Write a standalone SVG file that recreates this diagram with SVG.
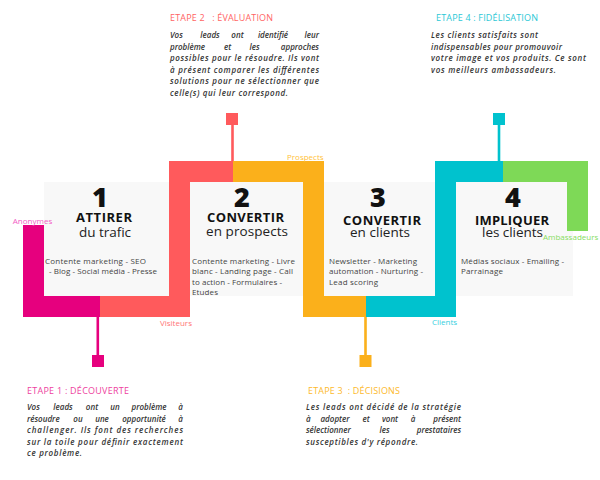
<svg xmlns="http://www.w3.org/2000/svg" width="600" height="480" viewBox="0 0 600 480">
<style>
.box{fill:#F8F8F8}
.num{font-family:"Open Sans","Liberation Sans",sans-serif;font-weight:800;font-size:27px;fill:#111;text-anchor:middle}
.ttl{font-family:"Open Sans","Liberation Sans",sans-serif;font-weight:700;font-size:13px;fill:#111;text-anchor:middle}
.sub{font-family:"Open Sans","Liberation Sans",sans-serif;font-weight:400;font-size:13.5px;fill:#222;text-anchor:middle}
.dsc{font-family:"Open Sans","Liberation Sans",sans-serif;font-weight:400;font-size:8px;fill:#444}
.lbl{font-family:"Open Sans","Liberation Sans",sans-serif;font-weight:400;font-size:8px}
.hd{font-family:"Open Sans","Liberation Sans",sans-serif;font-weight:500;font-size:9px;white-space:pre}
.par{font-family:"Open Sans","Liberation Sans",sans-serif;font-weight:600;font-style:italic;font-size:8px;fill:#333}
.m{text-anchor:middle}.e{text-anchor:end}
</style>
<rect width="600" height="480" fill="#FFFFFF"/>

<g id="step1">
<rect class="box" x="44" y="182" width="125" height="114"/>
<text class="num" x="100" y="207">1</text>
<text class="ttl" x="104" y="221.5" textLength="56">ATTIRER</text>
<text class="sub" x="105" y="236.5" textLength="52">du trafic</text>
<text class="dsc" x="45" y="263.5" textLength="101">Contente marketing - SEO</text>
<text class="dsc" x="49" y="274" textLength="108">- Blog - Social média - Presse</text>
</g>

<g id="step2">
<rect class="box" x="190" y="182" width="113" height="114"/>
<text class="num" x="242" y="207">2</text>
<text class="ttl" x="245.5" y="221.5" textLength="77">CONVERTIR</text>
<text class="sub" x="247" y="236" textLength="82">en prospects</text>
<text class="dsc" x="192" y="263.5" textLength="103">Contente marketing - Livre</text>
<text class="dsc" x="192" y="274" textLength="101">blanc - Landing page - Call</text>
<text class="dsc" x="192" y="284.5" textLength="90">to action - Formulaires -</text>
<text class="dsc" x="192" y="295" textLength="26">Etudes</text>
</g>

<g id="step3">
<rect class="box" x="324" y="182" width="111" height="114"/>
<text class="num" x="378" y="207">3</text>
<text class="ttl" x="382" y="224.5" textLength="78">CONVERTIR</text>
<text class="sub" x="380" y="236.5" textLength="60">en clients</text>
<text class="dsc" x="329" y="263.5" textLength="88">Newsletter - Marketing</text>
<text class="dsc" x="329" y="274" textLength="94">automation - Nurturing -</text>
<text class="dsc" x="329" y="284.5" textLength="49">Lead scoring</text>
</g>

<g id="step4">
<rect class="box" x="456" y="182" width="117" height="114"/>
<text class="num" x="513" y="207">4</text>
<text class="ttl" x="512" y="224.5" textLength="74">IMPLIQUER</text>
<text class="sub" x="512.5" y="237" textLength="61">les clients</text>
<text class="dsc" x="461" y="263.5" textLength="103">Médias sociaux - Emailing -</text>
<text class="dsc" x="461" y="274" textLength="42">Parrainage</text>
</g>

<g id="connectors">
<path d="M23,225H44V296H100V317H23Z" fill="#E6007E"/>
<path d="M100,296H169V161H233V182H190V317H100Z" fill="#FF5A5C"/>
<path d="M233,161H324V296H366V317H303V182H233Z" fill="#FBB01B"/>
<path d="M366,296H435V161H503V182H456V317H366Z" fill="#00C2CE"/>
<path d="M503,161H588V231H567V182H503Z" fill="#7ED957"/>
<rect x="96.5" y="317" width="2.6" height="40" fill="#E6007E"/>
<rect x="92" y="355" width="12" height="12" fill="#E6007E"/>
<rect x="231.2" y="123" width="2.6" height="38" fill="#FF5A5C"/>
<rect x="226" y="113" width="12" height="12" fill="#FF5A5C"/>
<rect x="364.2" y="317" width="2.6" height="40" fill="#FBB01B"/>
<rect x="359.5" y="355" width="12" height="12" fill="#FBB01B"/>
<rect x="497.7" y="123" width="2.6" height="38" fill="#00C2CE"/>
<rect x="493" y="113" width="12" height="12" fill="#00C2CE"/>
</g>

<g id="labels">
<text class="lbl m" x="32.5" y="224" fill="#F25CC4">Anonymes</text>
<text class="lbl" x="160" y="326" fill="#FF7676">Visiteurs</text>
<text class="lbl" x="287" y="160" fill="#FFC23A">Prospects</text>
<text class="lbl" x="432" y="325" fill="#36CFE0">Clients</text>
<text class="lbl" x="543" y="240" fill="#86DD5E">Ambassadeurs</text>
</g>

<g id="etape1">
<text class="hd" x="27" y="394" fill="#EE3FA0" textLength="102" xml:space="preserve">ETAPE 1 : DÉCOUVERTE</text>
<text class="par" x="27" y="410">Vos</text>
<text class="par m" x="63" y="410">leads</text>
<text class="par m" x="92" y="410">ont</text>
<text class="par m" x="115" y="410">un</text>
<text class="par m" x="149" y="410">problème</text>
<text class="par e" x="183" y="410">à</text>
<text class="par" x="27" y="421.5">résoudre</text>
<text class="par m" x="78" y="421.5">ou</text>
<text class="par m" x="102" y="421.5">une</text>
<text class="par m" x="144" y="421.5">opportunité</text>
<text class="par e" x="183" y="421.5">à</text>
<text class="par" x="27" y="433" textLength="156">challenger. Ils font des recherches</text>
<text class="par" x="27" y="444.5" textLength="156">sur la toile pour définir exactement</text>
<text class="par" x="27" y="456" textLength="55">ce problème.</text>
</g>

<g id="etape2">
<text class="hd" x="170" y="21" fill="#FF6464" textLength="103" xml:space="preserve">ETAPE 2   : ÉVALUATION</text>
<text class="par" x="170" y="38">Vos</text>
<text class="par m" x="210" y="38">leads</text>
<text class="par m" x="237.5" y="38">ont</text>
<text class="par m" x="273" y="38">identifié</text>
<text class="par e" x="319" y="38">leur</text>
<text class="par" x="170" y="49.5">problème</text>
<text class="par m" x="227.5" y="49.5">et</text>
<text class="par m" x="254.5" y="49.5">les</text>
<text class="par e" x="319" y="49.5">approches</text>
<text class="par" x="170" y="61" textLength="149">possibles pour le résoudre. Ils vont</text>
<text class="par" x="170" y="72.5" textLength="149">à présent comparer les différentes</text>
<text class="par" x="170" y="84" textLength="149">solutions pour ne sélectionner que</text>
<text class="par" x="170" y="95.5" textLength="118">celle(s) qui leur correspond.</text>
</g>

<g id="etape3">
<text class="hd" x="308" y="394" fill="#FDB92B" textLength="92" xml:space="preserve">ETAPE 3  : DÉCISIONS</text>
<text class="par" x="306" y="410" textLength="155">Les leads ont décidé de la stratégie</text>
<text class="par" x="306" y="421.5">à</text>
<text class="par m" x="335" y="421.5">adopter</text>
<text class="par m" x="366" y="421.5">et</text>
<text class="par m" x="390" y="421.5">vont</text>
<text class="par m" x="413" y="421.5">à</text>
<text class="par e" x="461" y="421.5">présent</text>
<text class="par" x="306" y="433">sélectionner</text>
<text class="par m" x="384.5" y="433">les</text>
<text class="par e" x="461" y="433">prestataires</text>
<text class="par" x="306" y="444.5" textLength="112">susceptibles d'y répondre.</text>
</g>

<g id="etape4">
<text class="hd" x="436" y="21" fill="#2CC8D6" textLength="102" xml:space="preserve">ETAPE 4 : FIDÉLISATION</text>
<text class="par" x="431" y="38" textLength="107">Les clients satisfaits sont</text>
<text class="par" x="431" y="49.5" textLength="131">indispensables pour promouvoir</text>
<text class="par" x="431" y="61" textLength="155">votre image et vos produits. Ce sont</text>
<text class="par" x="431" y="72.5" textLength="125">vos meilleurs ambassadeurs.</text>
</g>
</svg>
